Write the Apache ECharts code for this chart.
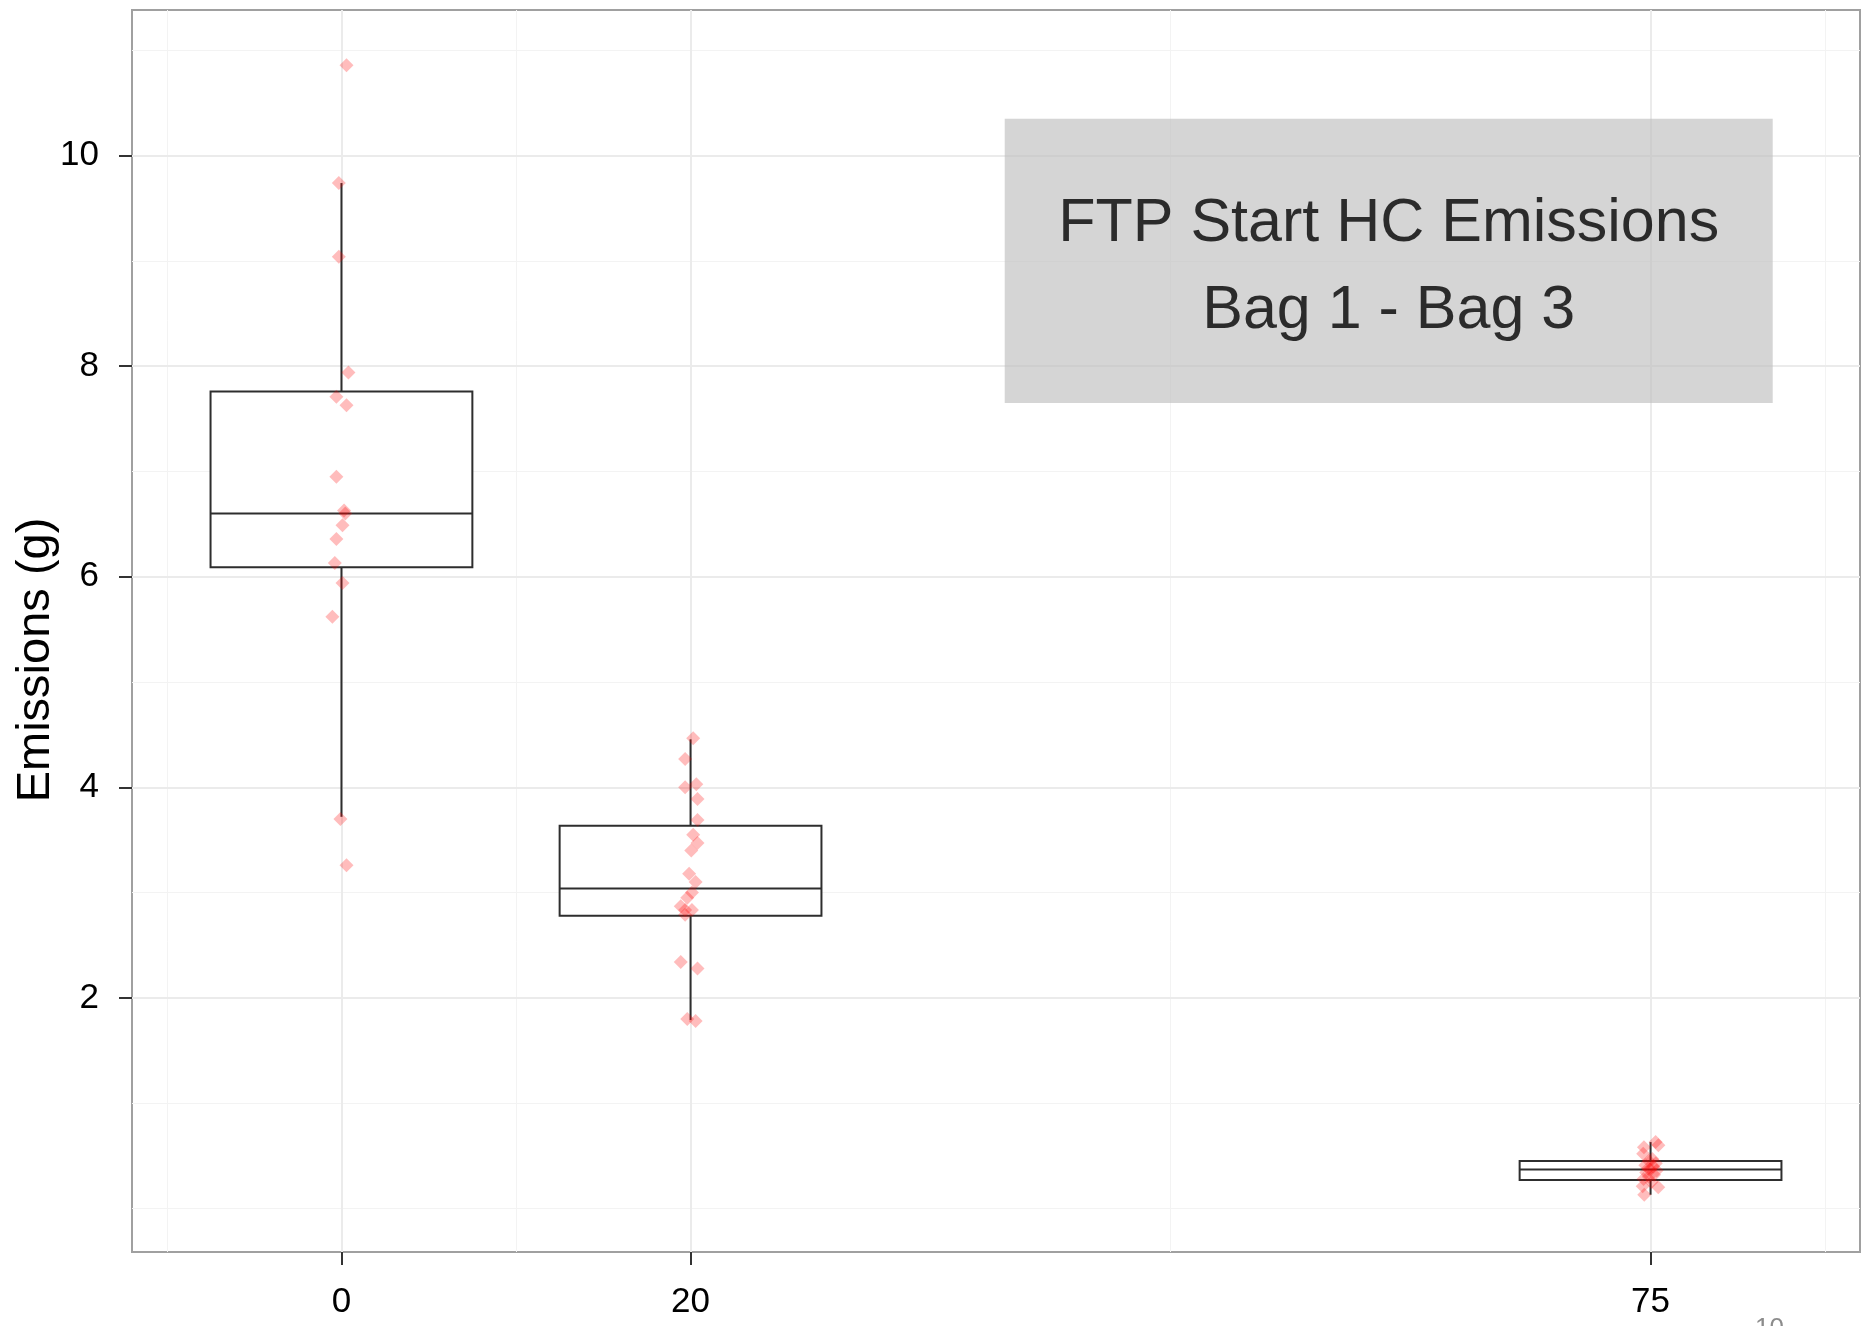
<!DOCTYPE html>
<html><head><meta charset="utf-8">
<script src="https://cdn.jsdelivr.net/npm/echarts@6/dist/echarts.min.js"></script>
<style>html,body{margin:0;padding:0;background:#fff}#c{width:1864px;height:1326px}</style>
</head><body><div id="c"></div>
<script>
// ---- data ----
const groups = [0, 20, 75];
const boxMin = [3.72, 1.79, 0.13];
const boxQ1 = [6.09, 2.78, 0.27];
const boxMedian = [6.60, 3.04, 0.37];
const boxQ3 = [7.76, 3.635, 0.45];
const boxMax = [9.74, 4.456, 0.63];

const ptsX0 = [0.29, -0.15, -0.15, 0.40, -0.29, 0.29, -0.29, 0.15, 0.22, 0.06, -0.29, -0.38, 0.06, -0.52, -0.06, 0.29];
const ptsY0 = [10.86, 9.74, 9.04, 7.94, 7.71, 7.63, 6.95, 6.63, 6.60, 6.49, 6.36, 6.13, 5.94, 5.62, 3.70, 3.26];

const ptsX20 = [20.15, 19.69, 19.69, 20.33, 20.40, 20.40, 20.15, 20.40, 20.04, 19.92, 20.29, 20.08, 19.81, 19.44, 19.69, 20.08, 19.69, 19.44, 20.40, 19.81, 20.29];
const ptsY20 = [4.466, 4.27, 4.00, 4.03, 3.89, 3.69, 3.55, 3.47, 3.40, 3.18, 3.10, 3.00, 2.95, 2.87, 2.835, 2.835, 2.79, 2.34, 2.28, 1.80, 1.78];

const ptsX75 = [75.29, 75.45, 74.62, 74.58, 75.10, 74.90, 75.30, 74.70, 75.15, 74.85, 75.00, 75.35, 74.75, 75.20, 74.90, 74.60, 74.55, 75.44, 74.64, 75.05];
const ptsY75 = [0.63, 0.60, 0.58, 0.52, 0.47, 0.45, 0.43, 0.41, 0.40, 0.38, 0.37, 0.36, 0.34, 0.32, 0.30, 0.28, 0.21, 0.20, 0.13, 0.25];

const xTicks = [0, 20, 75];
const yTicks = [2, 4, 6, 8, 10];
const xMinorGrid = [-10, 10, 47.5, 85];
const yMinorGrid = [0, 1, 3, 5, 7, 9, 11];

const annotationLines = ['FTP Start HC Emissions', 'Bag 1 - Bag 3'];
const annotationPos = [60, 9];
const annotationRect = [38, 82, 7.65, 10.35]; // xmin, xmax, ymin, ymax

const yAxisTitle = 'Emissions (g)';
const pageNumber = '10';

// ---- build ----
const FONT = '"Liberation Sans", Arial, sans-serif';
const boxWidth = 15;

const boxData = groups.map((g, i) => [g, boxMin[i], boxQ1[i], boxMedian[i], boxQ3[i], boxMax[i]]);
const points = [];
[[ptsX0, ptsY0], [ptsX20, ptsY20], [ptsX75, ptsY75]].forEach(([xs, ys]) => {
  xs.forEach((x, i) => points.push([x, ys[i]]));
});

const MAJOR = { color: '#ebebeb', width: 2, type: 'solid' };
const MINOR = { color: '#f3f3f3', width: 1, type: 'solid' };
const gridLines = [];
xMinorGrid.forEach(v => gridLines.push({ xAxis: v, lineStyle: MINOR }));
yMinorGrid.forEach(v => gridLines.push({ yAxis: v, lineStyle: MINOR }));
xTicks.forEach(v => gridLines.push({ xAxis: v, lineStyle: MAJOR }));
yTicks.forEach(v => gridLines.push({ yAxis: v, lineStyle: MAJOR }));

const chart = echarts.init(document.getElementById('c'), null, { renderer: 'canvas' });

const BOXCOL = '#2e2e2e';

chart.setOption({
  animation: false,
  backgroundColor: '#ffffff',
  grid: {
    left: 132, right: 4, top: 10, bottom: 74,
    outerBoundsMode: 'none', containLabel: false,
    show: true, borderColor: '#a0a0a0', borderWidth: 2, backgroundColor: '#ffffff'
  },
  xAxis: {
    type: 'value', min: -12, max: 87,
    axisLine: { show: false, onZero: false },
    splitLine: { show: false },
    axisTick: { show: true, customValues: xTicks, length: 13, lineStyle: { color: '#333', width: 2 } },
    axisLabel: { customValues: xTicks, fontSize: 35, color: '#000', margin: 33, fontFamily: FONT }
  },
  yAxis: {
    type: 'value', min: -0.414, max: 11.384,
    axisLine: { show: false, onZero: false },
    splitLine: { show: false },
    axisTick: { show: true, customValues: yTicks, length: 13, lineStyle: { color: '#333', width: 2 } },
    axisLabel: { customValues: yTicks, fontSize: 35, color: '#000', margin: 33, fontFamily: FONT, padding: [8, 0, 0, 0] }
  },
  graphic: [
    {
      type: 'text', x: 36, y: 660, rotation: Math.PI / 2,
      style: { text: yAxisTitle, fontSize: 47, fill: '#000', fontFamily: FONT, align: 'center', verticalAlign: 'middle' }
    },
    {
      type: 'text', left: 1755, top: 1316,
      style: { text: pageNumber, fontSize: 26, fill: '#8c8c8c', fontFamily: FONT }
    }
  ],
  series: [
    {
      type: 'line', data: [], z: 0, silent: true,
      markLine: {
        silent: true, symbol: ['none', 'none'], label: { show: false }, animation: false, z: 0,
        lineStyle: { type: 'solid' },
        data: gridLines
      }
    },
    {
      type: 'line', data: [], z: 1, silent: true,
      markArea: {
        silent: true,
        itemStyle: { color: 'rgba(190,190,190,0.65)' },
        data: [[{ coord: [annotationRect[0], annotationRect[3]] }, { coord: [annotationRect[1], annotationRect[2]] }]]
      }
    },
    {
      type: 'custom', z: 3, silent: true,
      data: boxData,
      encode: { x: 0, y: [1, 2, 3, 4, 5] },
      renderItem: function (params, api) {
        const x = api.value(0);
        const mn = api.value(1), q1 = api.value(2), md = api.value(3), q3 = api.value(4), mx = api.value(5);
        const tl = api.coord([x - boxWidth / 2, q3]);
        const br = api.coord([x + boxWidth / 2, q1]);
        const mL = api.coord([x - boxWidth / 2, md]);
        const mR = api.coord([x + boxWidth / 2, md]);
        const top = api.coord([x, mx]);
        const bot = api.coord([x, mn]);
        const ls = () => ({ stroke: BOXCOL, lineWidth: 2, fill: null });
        return {
          type: 'group',
          children: [
            { type: 'line', shape: { x1: top[0], y1: top[1], x2: top[0], y2: tl[1] }, style: ls() },
            { type: 'line', shape: { x1: bot[0], y1: br[1], x2: bot[0], y2: bot[1] }, style: ls() },
            { type: 'rect', shape: { x: tl[0], y: tl[1], width: br[0] - tl[0], height: br[1] - tl[1] },
              style: { fill: '#ffffff', stroke: BOXCOL, lineWidth: 2 } },
            { type: 'line', shape: { x1: mL[0], y1: mL[1], x2: mR[0], y2: mR[1] }, style: ls() }
          ]
        };
      }
    },
    {
      type: 'scatter', z: 4, silent: true,
      data: points,
      symbol: 'diamond', symbolSize: 14,
      itemStyle: { color: 'rgba(255,0,0,0.33)', borderWidth: 0 }
    },
    {
      type: 'scatter', z: 5, silent: true,
      data: [annotationPos],
      symbolSize: 0,
      label: {
        show: true, position: 'inside', offset: [0, 7],
        formatter: annotationLines.join('\n'),
        fontSize: 61, lineHeight: 87, color: '#000', fontFamily: FONT, align: 'center'
      }
    }
  ]
});
</script>
</body></html>
